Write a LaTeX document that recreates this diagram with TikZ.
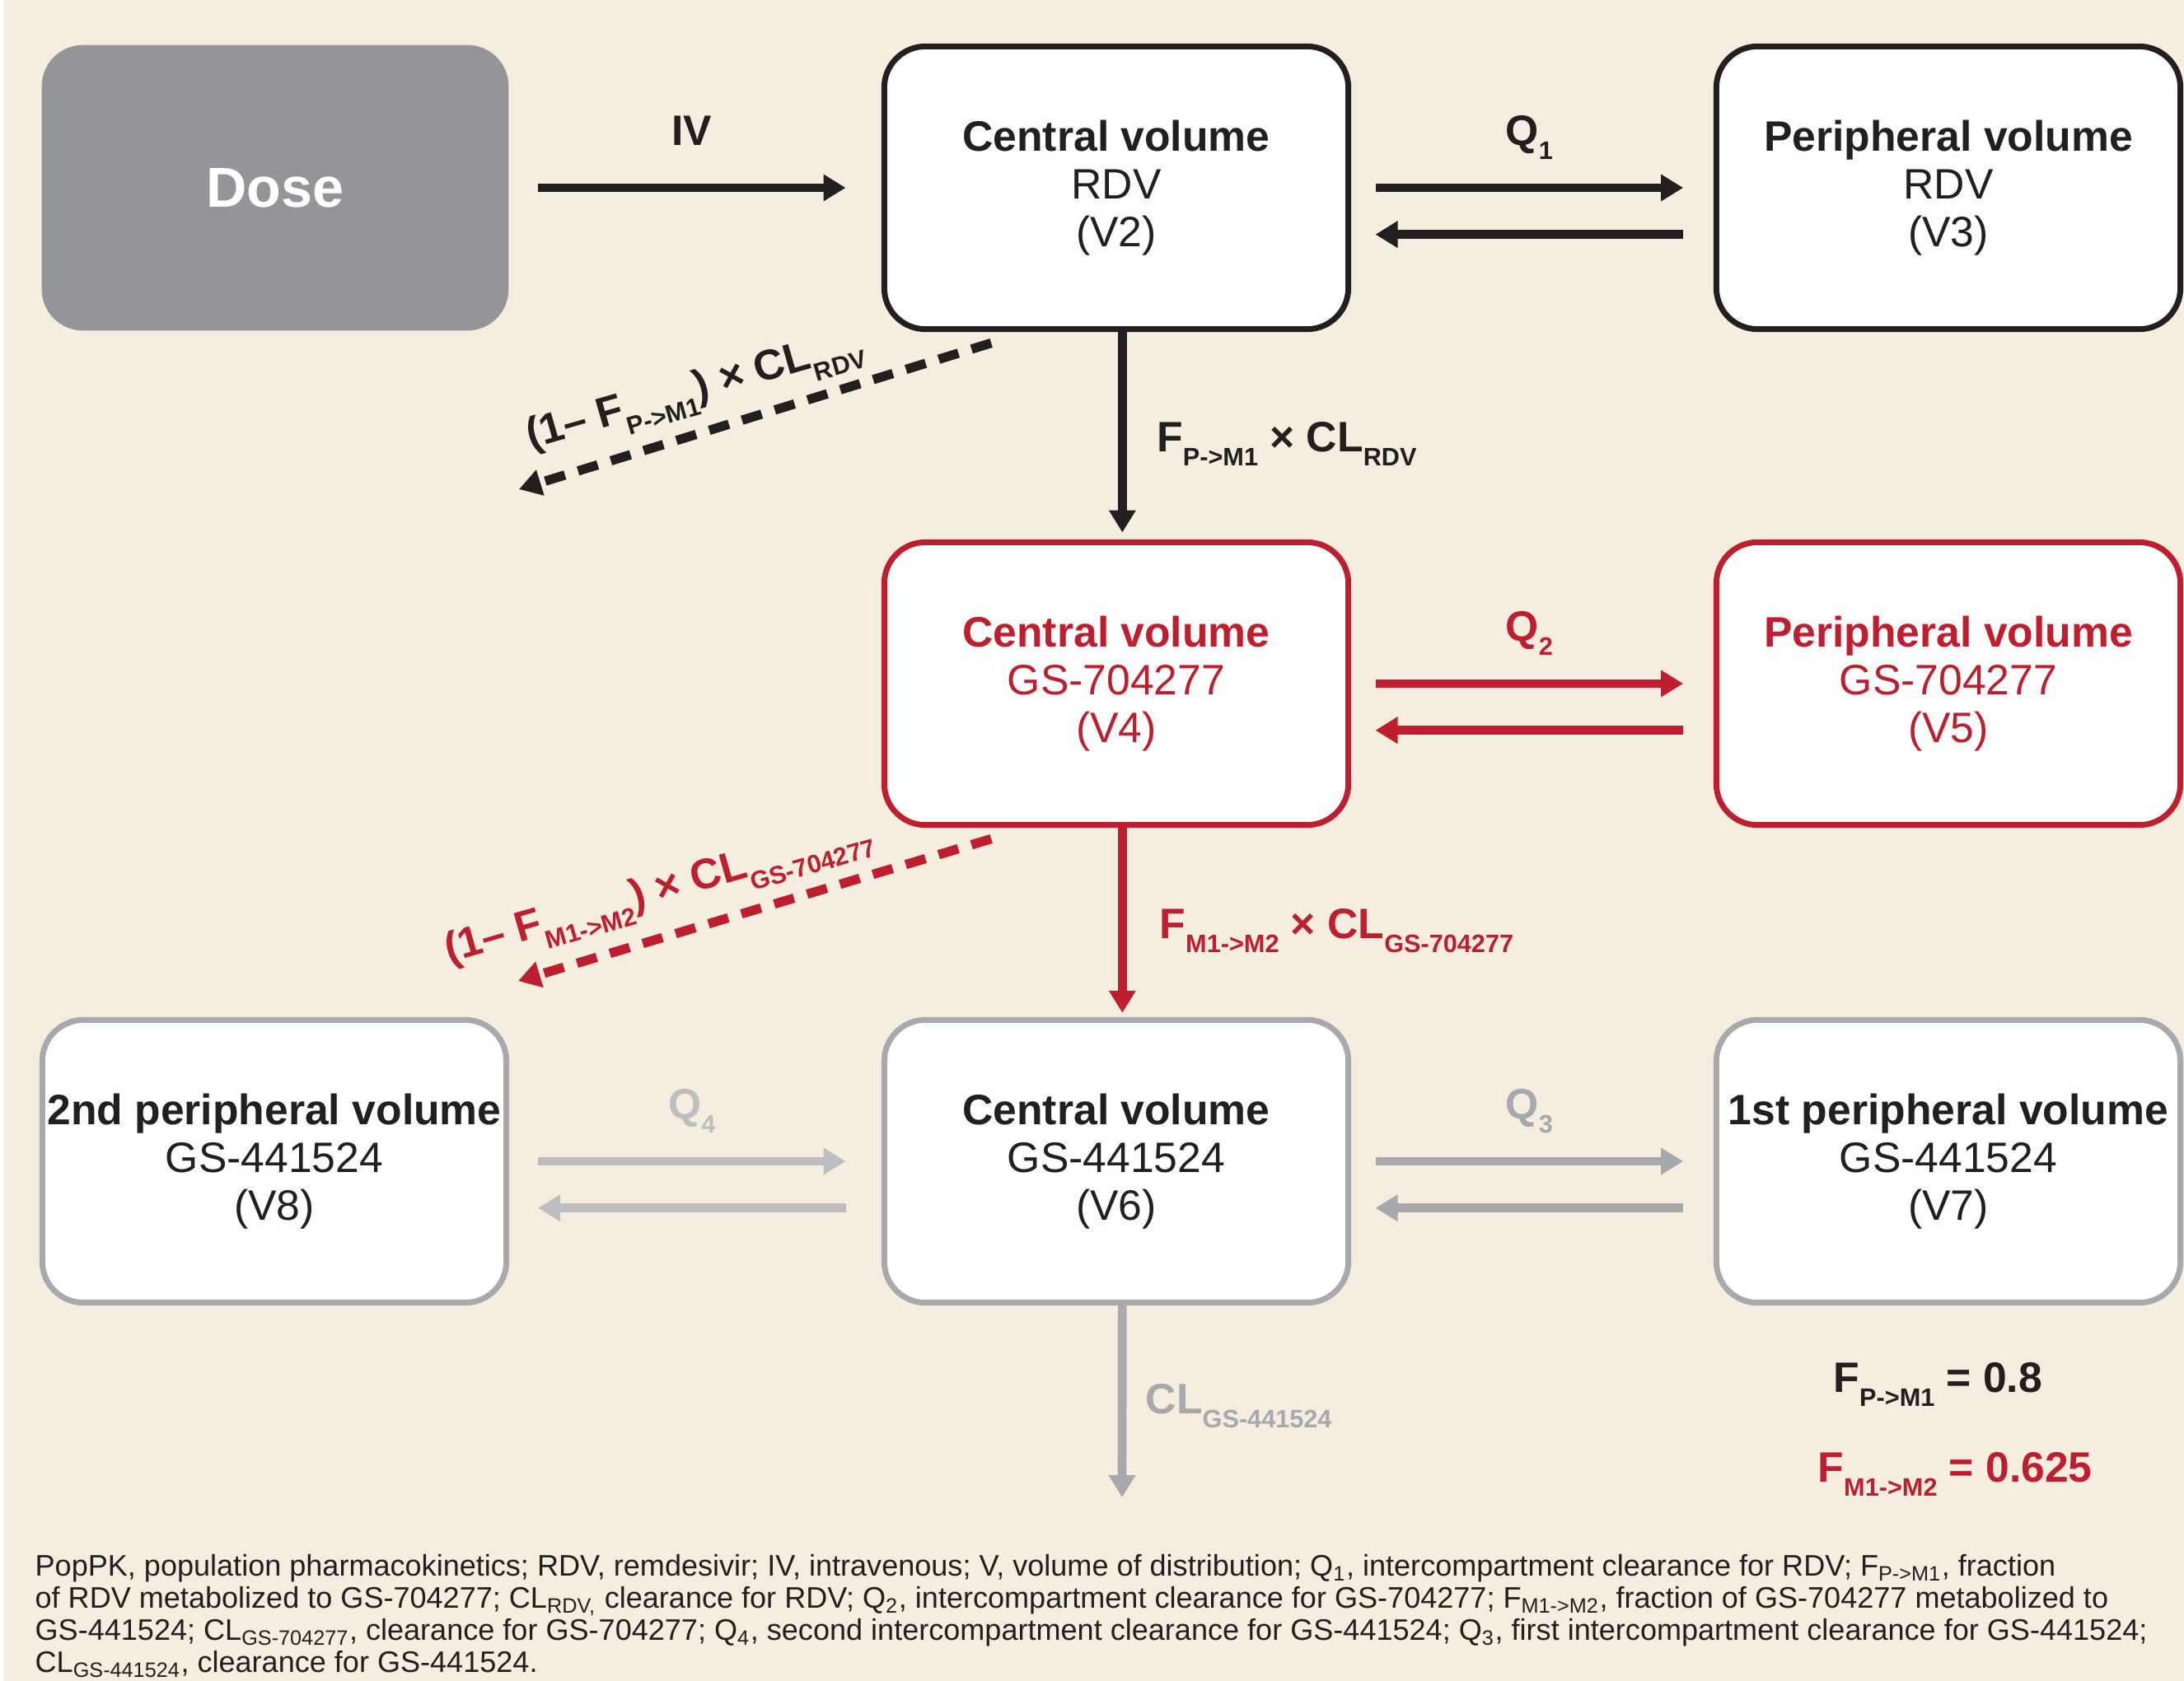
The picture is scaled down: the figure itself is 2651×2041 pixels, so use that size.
\documentclass[tikz,border=0pt]{standalone}
\usepackage{fontspec}
\setmainfont{Liberation Sans}
\usepackage{tikz}
\usetikzlibrary{arrows.meta}
\definecolor{bgbeige}{RGB}{245,237,224}
\definecolor{dosegray}{RGB}{147,149,152}
\definecolor{ink}{RGB}{35,31,32}
\definecolor{pkred}{RGB}{190,30,45}
\definecolor{boxgray}{RGB}{167,169,172}
\definecolor{palegray}{RGB}{188,190,192}
\newcommand{\lowsub}[1]{\raisebox{-5.2pt}{\fontsize{9.2}{9.2}\selectfont #1}}

\begin{document}
\begin{tikzpicture}
[x=0.3pt,y=-0.3pt
,comp/.style={draw,rounded corners=15pt,line width=2.1pt,fill=white,align=center,inner sep=0pt,minimum width=169pt,minimum height=103pt,font=\fontsize{15.5}{17.4}\selectfont}
,rdv/.style={comp,draw=ink,text=ink}
,mone/.style={comp,draw=pkred,text=pkred}
,mtwo/.style={comp,draw=boxgray,text=ink}
,dosebox/.style={fill=dosegray,rounded corners=15pt,minimum width=170pt,minimum height=104pt,text=white,font=\bfseries\fontsize{20.5}{20.5}\selectfont}
,flow/.style={line width=3.2pt,-{Triangle[length=8.1pt,width=9.3pt]}}
,loss/.style={flow,line width=3.4pt,dash pattern=on 7.5pt off 5pt}
,lab/.style={inner sep=0pt,font=\bfseries\fontsize{15.5}{15.5}\selectfont}
,qlab/.style={lab,midway,anchor=base,yshift=15.5pt}
,vlab/.style={lab,midway,anchor=base west}
]
\useasboundingbox (0,0) rectangle (2651,2041);
\fill[bgbeige] (5,0) rectangle (2651,2041);

% compartments
\node[dosebox] (dose) at (334,228) {Dose};
\node[rdv] (cRDV) at (1355,228) {\textbf{Central volume}\\RDV\\(V2)};
\node[rdv] (pRDV) at (2365,228) {\textbf{Peripheral volume}\\RDV\\(V3)};
\node[mone] (cM1) at (1355,830) {\textbf{Central volume}\\GS-704277\\(V4)};
\node[mone] (pM1) at (2365,830) {\textbf{Peripheral volume}\\GS-704277\\(V5)};
\node[mtwo] (pM2b) at (333,1410) {\textbf{2nd peripheral volume}\\GS-441524\\(V8)};
\node[mtwo] (cM2) at (1355,1410) {\textbf{Central volume}\\GS-441524\\(V6)};
\node[mtwo] (pM2a) at (2365,1410) {\textbf{1st peripheral volume}\\GS-441524\\(V7)};

\coordinate (lossP) at (630,594);
\coordinate (lossM1) at (629,1191);
\coordinate (outM2) at (1362,1818);

% RDV
\draw[flow,ink] ([xshift=10.5pt]dose.east) -- node[qlab]{IV} ([xshift=-13pt]cRDV.west);
\draw[flow,ink] ([xshift=8.8pt]cRDV.east) -- node[qlab]{Q\lowsub{1}} ([xshift=-11pt]pRDV.west);
\draw[flow,ink] ([xshift=-11pt,yshift=-17pt]pRDV.west) -- ([xshift=8.8pt,yshift=-17pt]cRDV.east);
\draw[flow,ink] ([xshift=2.2pt]cRDV.south) -- node[vlab,xshift=11pt,yshift=-7pt]{F\lowsub{P->M1} × CL\lowsub{RDV}} ([xshift=2.2pt,yshift=2.5pt]cM1.north);
\draw[loss,ink] ([xshift=40pt,yshift=-4pt]cRDV.south west) -- (lossP);
\node[lab,ink,rotate=16] (lblP) at (844,477) {(1– F\lowsub{P->M1}) × CL\lowsub{RDV}};

% GS-704277
\draw[flow,pkred] ([xshift=8.8pt]cM1.east) -- node[qlab]{Q\lowsub{2}} ([xshift=-11pt]pM1.west);
\draw[flow,pkred] ([xshift=-11pt,yshift=-17pt]pM1.west) -- ([xshift=8.8pt,yshift=-17pt]cM1.east);
\draw[flow,pkred] ([xshift=2.2pt]cM1.south) -- node[vlab,xshift=12pt,yshift=-6.6pt]{F\lowsub{M1->M2} × CL\lowsub{GS-704277}} ([xshift=2.2pt,yshift=1.5pt]cM2.north);
\draw[loss,pkred] ([xshift=40pt,yshift=-4pt]cM1.south west) -- (lossM1);
\node[lab,pkred,rotate=16] (lblM1) at (800,1086) {(1– F\lowsub{M1->M2}) × CL\lowsub{GS-704277}};

% GS-441524
\draw[flow,palegray] ([xshift=10.5pt]pM2b.east) -- node[qlab]{Q\lowsub{4}} ([xshift=-13pt]cM2.west);
\draw[flow,palegray] ([xshift=-13pt,yshift=-17pt]cM2.west) -- ([xshift=10.5pt,yshift=-17pt]pM2b.east);
\draw[flow,boxgray] ([xshift=8.8pt]cM2.east) -- node[qlab]{Q\lowsub{3}} ([xshift=-11pt]pM2a.west);
\draw[flow,boxgray] ([xshift=-11pt,yshift=-17pt]pM2a.west) -- ([xshift=8.8pt,yshift=-17pt]cM2.east);
\draw[flow,boxgray] ([xshift=2.2pt]cM2.south) -- node[vlab,xshift=7pt,yshift=-4.5pt]{CL\lowsub{GS-441524}} (outM2);

\node[lab,ink,anchor=base west] (fPM1) at (2225,1690) {F\lowsub{P->M1} = 0.8};
\node[lab,pkred,anchor=base west] (fM1M2) at (2206,1799) {F\lowsub{M1->M2} = 0.625};

\node[anchor=north west,align=left,inner sep=0pt,text=ink,font=\fontsize{10.82}{11.7}\selectfont] (note) at (42,1887)
{PopPK, population pharmacokinetics; RDV, remdesivir; IV, intravenous; V, volume of distribution; Q\textsubscript{1}, intercompartment clearance for RDV; F\textsubscript{P->M1}, fraction\\
of RDV metabolized to GS-704277; CL\textsubscript{RDV,} clearance for RDV; Q\textsubscript{2}, intercompartment clearance for GS-704277; F\textsubscript{M1->M2}, fraction of GS-704277 metabolized to\\
GS-441524; CL\textsubscript{GS-704277}, clearance for GS-704277; Q\textsubscript{4}, second intercompartment clearance for GS-441524; Q\textsubscript{3}, first intercompartment clearance for GS-441524;\\
CL\textsubscript{GS-441524}, clearance for GS-441524.};
\end{tikzpicture}
\end{document}
